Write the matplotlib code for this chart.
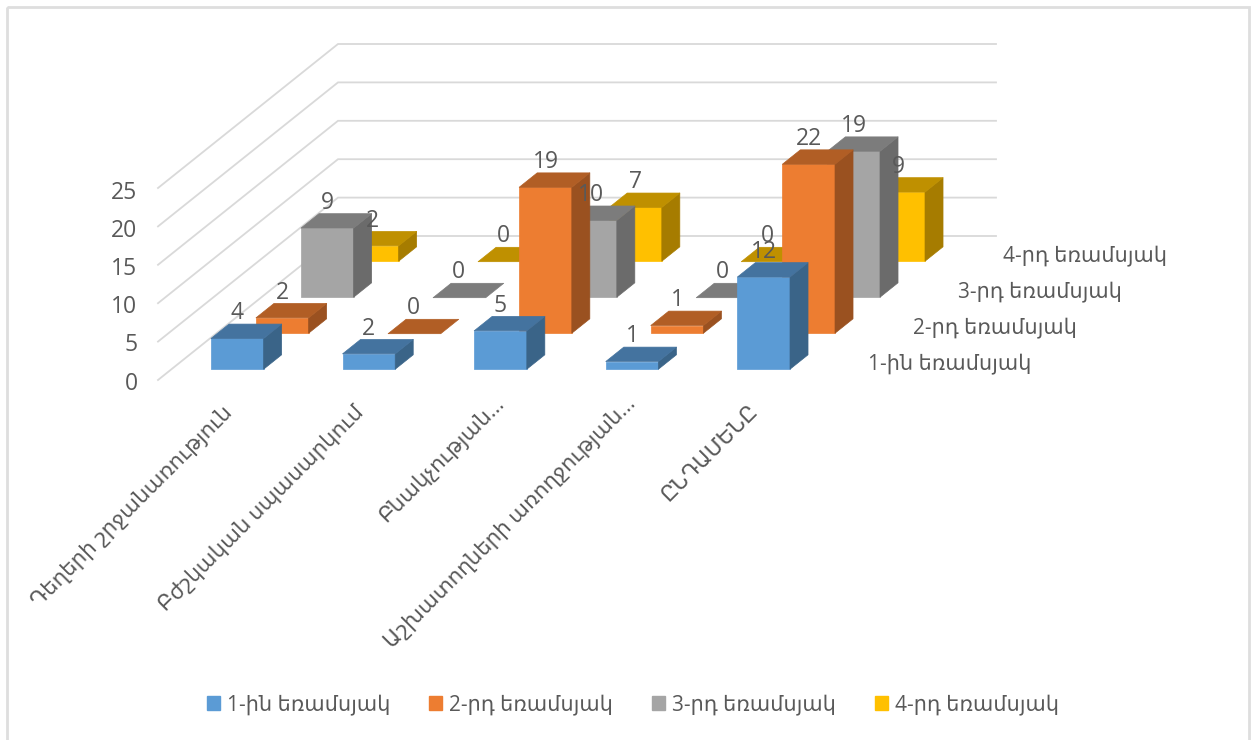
import matplotlib
matplotlib.use("Agg")
import matplotlib.pyplot as plt
from matplotlib.collections import PolyCollection
from matplotlib.patches import Patch, Rectangle

plt.rcParams['font.family'] = ['Open Sans', 'DejaVu Sans']

categories = ["Դեղերի շրջանառություն", "Բժշկական սպասարկում", "Բնակչության...",
              "Աշխատողների առողջության...", "ԸՆԴԱՄԵՆԸ"]
series_names = ["1-ին եռամսյակ", "2-րդ եռամսյակ", "3-րդ եռամսյակ", "4-րդ եռամսյակ"]
q1 = [4, 2, 5, 1, 12]
q2 = [2, 0, 19, 1, 22]
q3 = [9, 0, 10, 0, 19]
q4 = [2, 0, 7, 0, 9]
series_values = [q1, q2, q3, q4]
y_ticks = [0, 5, 10, 15, 20, 25]

front_colors = ["#5B9BD5", "#ED7D31", "#A5A5A5", "#FFC000"]
top_colors = ["#44739F", "#B15E25", "#7C7C7C", "#BF9000"]
side_colors = ["#3A6488", "#9A5120", "#6B6B6B", "#A67C00"]
GRID = "#D9D9D9"
TEXT = "#595959"

# oblique projection: category, series depth, value -> canvas position
X0, Y0 = 158.0, 380.0
CAT_DX, SER_DX, SER_DY, VAL_DY = 131.6, 45.0, 36.0, 7.68


def proj(c, s, v):
    return X0 + CAT_DX * c + SER_DX * s, Y0 - SER_DY * s - VAL_DY * v


fig = plt.figure(figsize=(12.56, 7.40), dpi=100, facecolor="white")
ax = fig.add_axes([0, 0, 1, 1])
ax.set_xlim(0, 1256)
ax.set_ylim(740, 0)
ax.axis("off")

ax.add_patch(Rectangle((6.5, 7), 1242, 745, fill=False, ec="#DEDEDE", lw=2.0, zorder=1))

n_cat, n_ser = len(categories), len(series_names)
for t in y_ticks:
    p = [proj(0, 0, t), proj(0, n_ser, t), proj(n_cat, n_ser, t)]
    ax.plot([a for a, _ in p], [b for _, b in p], color=GRID, lw=1.3, zorder=2,
            solid_joinstyle="miter")
    ax.text(X0 - 20.5, proj(0, 0, t)[1] + 0.5 + 0.06 * t, str(t), ha="right", va="center_baseline",
            fontsize=16.5, color=TEXT, zorder=20)

z = 5
for s in reversed(range(n_ser)):
    for c in range(n_cat):
        v = series_values[s][c]
        c0, c1, s0, s1 = c + .3, c + .7, s + .3, s + .7
        polys, cols = [], []
        if v > 0:
            polys.append([proj(c0, s0, 0), proj(c1, s0, 0), proj(c1, s0, v), proj(c0, s0, v)])
            cols.append(front_colors[s])
            polys.append([proj(c1, s0, 0), proj(c1, s1, 0), proj(c1, s1, v), proj(c1, s0, v)])
            cols.append(side_colors[s])
        polys.append([proj(c0, s0, v), proj(c1, s0, v), proj(c1, s1, v), proj(c0, s1, v)])
        cols.append(top_colors[s])
        ax.add_collection(PolyCollection(polys, facecolors=cols, edgecolors=cols, linewidths=0.5, zorder=z))
        z += 1

for s in range(n_ser):
    for c in range(n_cat):
        v = series_values[s][c]
        x, y = proj(c + .5, s + .5, v)
        ax.text(x - 9, y - 21, str(v), ha="center", va="center_baseline", fontsize=16.5,
                color=TEXT, zorder=30)

for s, name in enumerate(series_names):
    x, y = proj(n_cat, s + .5, 0)
    ax.text(x + 29.5, y + 2, name, ha="left", va="center", fontsize=15, color=TEXT, zorder=20)

for c, name in enumerate(categories):
    x, y = proj(c + .5, 0, 0)
    nudge = 9 if name.endswith("...") else 0   # truncated labels sit further along their slant
    ax.text(x + 5 + nudge, y + 29 - nudge, name, ha="right", va="center", rotation=45,
            rotation_mode="anchor", fontsize=15.4, color=TEXT, zorder=20)

handles = [Patch(facecolor=col, edgecolor=col) for col in front_colors]
ax.legend(handles, series_names, loc="center", bbox_to_anchor=(633 / 1256, 1 - 705 / 740),
          ncol=4, frameon=False, fontsize=15, labelcolor=TEXT, handlelength=0.62,
          handleheight=0.62, handletextpad=0.35, columnspacing=1.85, borderpad=0, borderaxespad=0)

fig.savefig("out.png", dpi=100, facecolor="white")
